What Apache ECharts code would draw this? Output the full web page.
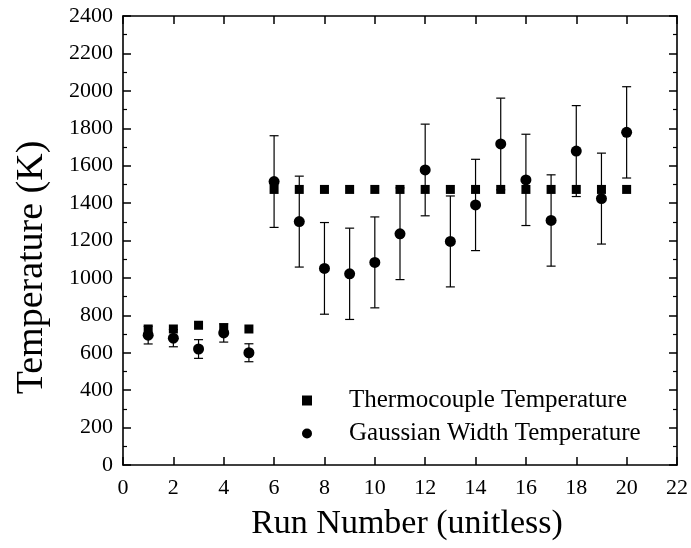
<!DOCTYPE html>
<html>
<head>
<meta charset="utf-8">
<script src="https://cdn.jsdelivr.net/npm/echarts@6/dist/echarts.min.js"></script>
<style>html,body{margin:0;padding:0;background:#fff;}#c{width:691px;height:548px;}</style>
</head>
<body>
<div id="c"></div>
<script>
const runs = [1,2,3,4,5,6,7,8,9,10,11,12,13,14,15,16,17,18,19,20];
const thermocouple = [727,727,747,733,727,1473,1473,1473,1473,1473,1473,1473,1473,1473,1473,1473,1473,1473,1473,1473];
const gaussian = [694,678,620,706,600,1515,1301,1051,1022,1083,1236,1577,1195,1390,1716,1524,1307,1678,1424,1778];
const gaussianErr = [47,46,50,49,48,245,243,245,244,243,245,245,243,244,245,244,244,243,243,244];
const xTicks = {min:0, max:22, interval:2};
const yTicks = {min:0, max:2400, interval:200};

const FONT = 'Liberation Serif';
const chart = echarts.init(document.getElementById('c'), null, {renderer:'canvas'});

const tcData = runs.map((r,i)=>[r, thermocouple[i]]);
const gwData = runs.map((r,i)=>[r, gaussian[i]]);
const errData = runs.map((r,i)=>[r, gaussian[i]-gaussianErr[i], gaussian[i]+gaussianErr[i]]);

function axisLine(){ return {show:true, onZero:false, lineStyle:{color:'#000', width:1.6}}; }
function xAxisCfg(pos, showLabels){
  return {
    type:'value', position:pos, min:xTicks.min, max:xTicks.max, interval:xTicks.interval,
    axisLine: axisLine(),
    axisTick:{show:true, inside:true, length:8, lineStyle:{color:'#000', width:1.5}},
    axisLabel:{show:showLabels, color:'#000', fontFamily:FONT, fontSize:22, margin:12,
      formatter:function(v){return String(v);}},
    splitLine:{show:false}
  };
}
function yAxisCfg(pos, showLabels){
  return {
    type:'value', position:pos, min:yTicks.min, max:yTicks.max, interval:yTicks.interval,
    axisLine: axisLine(),
    axisTick:{show:true, inside:true, length:8, lineStyle:{color:'#000', width:1.5}},
    minorTick:{show:true, splitNumber:2, length:4, lineStyle:{color:'#000', width:1.2}},
    axisLabel:{show:showLabels, color:'#000', fontFamily:FONT, fontSize:22, margin:10,
      formatter:function(v){return String(v);}},
    splitLine:{show:false}, minorSplitLine:{show:false}
  };
}

const xb = xAxisCfg('bottom', true);
xb.name = 'Run Number (unitless)';
xb.nameLocation = 'middle';
xb.nameGap = 42;
xb.nameTextStyle = {color:'#000', fontFamily:FONT, fontSize:34, padding:[0,0,0,14]};
const xt = xAxisCfg('top', false);

const yl = yAxisCfg('left', true);
yl.name = 'Temperature (K)';
yl.nameLocation = 'middle';
yl.nameGap = 72;
yl.nameTextStyle = {color:'#000', fontFamily:FONT, fontSize:38, padding:[0,54,0,0]};
const yr = yAxisCfg('right', false);

chart.setOption({
  backgroundColor:'#fff',
  animation:false,
  grid:{left:123, right:10, top:16, bottom:83},
  xAxis:[xb, xt],
  yAxis:[yl, yr],
  legend:{
    orient:'vertical', left:297, top:383, itemWidth:10, itemHeight:10, itemGap:8,
    textStyle:{color:'#000', fontFamily:FONT, fontSize:25, lineHeight:25, padding:[0,0,0,32]},
    data:[{name:'Thermocouple Temperature', icon:'rect'},{name:'Gaussian Width Temperature', icon:'circle'}]
  },
  series:[
    {
      type:'custom', name:'err', xAxisIndex:0, yAxisIndex:0, silent:true,
      data: errData,
      renderItem:function(params, api){
        const x = api.value(0);
        const lo = api.coord([x, api.value(1)]);
        const hi = api.coord([x, api.value(2)]);
        const w = 4.5;
        const st = {stroke:'#000', lineWidth:1.2};
        return {type:'group', children:[
          {type:'line', shape:{x1:lo[0], y1:lo[1], x2:hi[0], y2:hi[1]}, style:st},
          {type:'line', shape:{x1:lo[0]-w, y1:lo[1], x2:lo[0]+w, y2:lo[1]}, style:st},
          {type:'line', shape:{x1:hi[0]-w, y1:hi[1], x2:hi[0]+w, y2:hi[1]}, style:st}
        ]};
      },
      z:1
    },
    {
      type:'scatter', name:'Thermocouple Temperature', symbol:'rect', symbolSize:9,
      itemStyle:{color:'#000', opacity:1}, data:tcData, z:3
    },
    {
      type:'scatter', name:'Gaussian Width Temperature', symbol:'circle', symbolSize:11,
      itemStyle:{color:'#000', opacity:1}, data:gwData, z:2
    }
  ]
});
</script>
</body>
</html>
